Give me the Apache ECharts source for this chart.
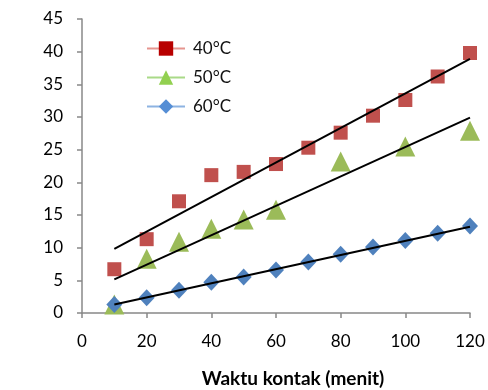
<!DOCTYPE html>
<html>
<head>
<meta charset="utf-8">
<script src="https://cdn.jsdelivr.net/npm/echarts@6/dist/echarts.min.js"></script>
<style>
html,body{margin:0;padding:0;background:#fff;}
#c{width:488px;height:390px;}
</style>
</head>
<body>
<div id="c"></div>
<script>
// ---- data ----
const seriesNames = ['40°C', '50°C', '60°C'];
const x40 = [10, 20, 30, 40, 50, 60, 70, 80, 90, 100, 110, 120];
const y40 = [6.7, 11.3, 17.1, 21.1, 21.6, 22.8, 25.3, 27.6, 30.2, 32.6, 36.2, 39.8];
const x50 = [10, 20, 30, 40, 50, 60, 80, 100, 120];
const y50 = [1.3, 8.3, 10.9, 12.9, 14.3, 15.8, 23.2, 25.5, 27.9];
const x60 = [10, 20, 30, 40, 50, 60, 70, 80, 90, 100, 110, 120];
const y60 = [1.3, 2.35, 3.5, 4.7, 5.5, 6.6, 7.8, 9.0, 10.1, 11.1, 12.2, 13.3];
// trend lines (endpoints)
const trendX = [10, 120];
const trend40 = [9.8, 38.9];
const trend50 = [5.15, 29.9];
const trend60 = [1.3, 13.2];
// axis ticks
const xTicks = [0, 20, 40, 60, 80, 100, 120];
const yTicks = [0, 5, 10, 15, 20, 25, 30, 35, 40, 45];

const pair = (xs, ys) => xs.map((x, i) => [x, ys[i]]);
const FONT = 'Lato, "Open Sans", sans-serif';

const chart = echarts.init(document.getElementById('c'), null, {renderer: 'canvas'});
const markerSeries = (name, xs, ys, symbol, size, color) => ({
  name: name, type: 'line', data: pair(xs, ys),
  symbol: symbol, symbolSize: size, showSymbol: true,
  lineStyle: {width: 0, opacity: 0},
  itemStyle: {color: color, opacity: 1},
  emphasis: {disabled: true}, z: 2, animation: false
});
const trendSeries = (ys) => ({
  type: 'line', data: pair(trendX, ys), symbol: 'none',
  lineStyle: {color: '#000', width: 2}, z: 5, animation: false,
  emphasis: {disabled: true}, silent: true
});

chart.setOption({
  animation: false,
  backgroundColor: '#fff',
  grid: {left: 82, right: 18, top: 19, bottom: 77, outerBoundsMode: 'none', containLabel: false},
  legend: {
    orient: 'vertical', left: 141, top: 35,
    itemWidth: 38, itemHeight: 18, itemGap: 12,
    textStyle: {fontFamily: FONT, fontSize: 17, color: '#111', padding: [0, 0, 0, 3]},
    data: [
      {name: seriesNames[0], itemStyle: {color: '#B80000'}, lineStyle: {color: '#E6958F', width: 2, opacity: 1}},
      {name: seriesNames[1], itemStyle: {color: '#92D050'}, lineStyle: {color: '#A9DA88', width: 2, opacity: 1}},
      {name: seriesNames[2], itemStyle: {color: '#558ED5'}, lineStyle: {color: '#8DB3E2', width: 2, opacity: 1}}
    ]
  },
  xAxis: {
    type: 'value', min: xTicks[0], max: xTicks[xTicks.length - 1], interval: 20,
    splitLine: {show: false},
    axisLine: {lineStyle: {color: '#888', width: 1.5}},
    axisTick: {show: true, length: 5, lineStyle: {color: '#888', width: 1.5}},
    axisLabel: {fontFamily: FONT, fontSize: 17, color: '#000', margin: 20},
    name: 'Waktu kontak (menit)', nameLocation: 'middle', nameGap: 56,
    nameTextStyle: {fontFamily: FONT, fontSize: 19, fontWeight: 'bold', color: '#000', padding: [0, 0, 0, 34]}
  },
  yAxis: {
    type: 'value', min: yTicks[0], max: yTicks[yTicks.length - 1], interval: 5,
    splitLine: {show: false},
    axisLine: {show: true, lineStyle: {color: '#888', width: 1.5}},
    axisTick: {show: true, length: 5, lineStyle: {color: '#888', width: 1.5}},
    axisLabel: {fontFamily: FONT, fontSize: 17, color: '#000', margin: 19},
    name: 't/qt (menit g/mg)', nameLocation: 'middle', nameGap: 62,
    nameTextStyle: {fontFamily: FONT, fontSize: 19, fontWeight: 'bold', color: '#000', padding: [0, 0, 32, 0]}
  },
  series: [
    markerSeries(seriesNames[0], x40, y40, 'rect', 14, '#C0504D'),
    markerSeries(seriesNames[1], x50, y50, 'triangle', [20, 20], '#9BBB59'),
    markerSeries(seriesNames[2], x60, y60, 'diamond', [16, 17], '#4F81BD'),
    trendSeries(trend40),
    trendSeries(trend50),
    trendSeries(trend60)
  ]
});
</script>
</body>
</html>
